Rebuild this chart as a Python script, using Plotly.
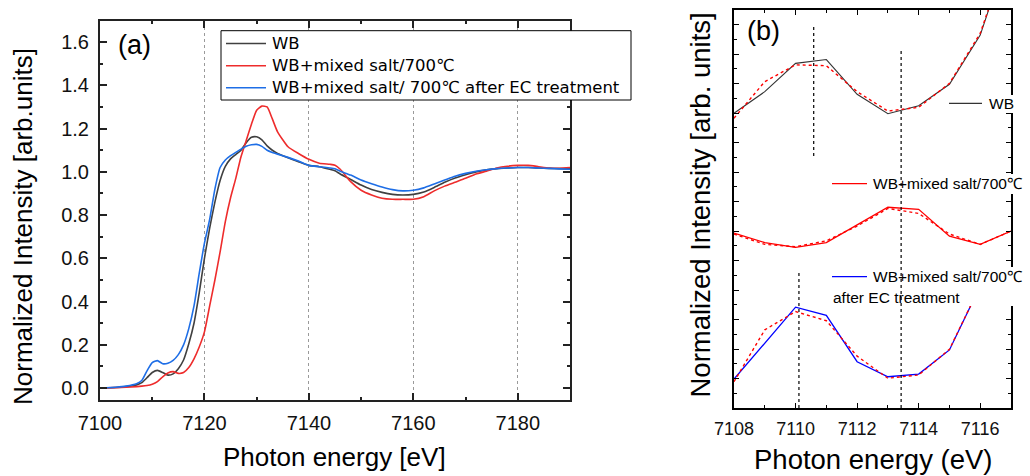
import plotly.graph_objects as go

# ---------------- Panel (a) data ----------------
energy_a = [7100, 7103, 7105, 7107, 7108, 7109, 7110, 7111, 7112, 7113, 7114, 7115, 7116,
            7117, 7118, 7119, 7120, 7121, 7122, 7123, 7124, 7125, 7126, 7127, 7128, 7129,
            7130, 7131, 7132, 7133, 7134, 7136, 7138, 7140, 7142, 7144, 7145, 7146, 7148,
            7150, 7152, 7154, 7156, 7158, 7160, 7162, 7164, 7166, 7168, 7170, 7172, 7174,
            7176, 7178, 7180, 7182, 7184, 7186, 7188, 7190]

wb_a = [0.0, 0.003, 0.007, 0.015, 0.025, 0.048, 0.072, 0.082, 0.072, 0.060, 0.066, 0.090, 0.13,
        0.205, 0.30, 0.44, 0.60, 0.74, 0.86, 0.96, 1.025, 1.06, 1.08, 1.10, 1.135, 1.16,
        1.162, 1.148, 1.12, 1.10, 1.085, 1.065, 1.047, 1.03, 1.024, 1.012, 1.005, 0.99, 0.965,
        0.939, 0.918, 0.905, 0.896, 0.893, 0.896, 0.907, 0.928, 0.952, 0.972, 0.987, 1.0, 1.009,
        1.015, 1.018, 1.02, 1.02, 1.018, 1.016, 1.015, 1.014]

salt_a = [0.0, 0.002, 0.004, 0.007, 0.009, 0.012, 0.018, 0.03, 0.052, 0.07, 0.076, 0.068, 0.072,
          0.095, 0.135, 0.19, 0.26, 0.38, 0.50, 0.63, 0.77, 0.88, 0.97, 1.07, 1.145, 1.22,
          1.285, 1.304, 1.30, 1.245, 1.185, 1.116, 1.085, 1.058, 1.04, 1.035, 1.031, 1.012, 0.955,
          0.915, 0.893, 0.878, 0.873, 0.873, 0.873, 0.885, 0.912, 0.934, 0.952, 0.97, 0.99, 1.003,
          1.018, 1.026, 1.03, 1.03, 1.024, 1.018, 1.017, 1.02]

ec_a = [0.0, 0.004, 0.009, 0.02, 0.035, 0.08, 0.118, 0.127, 0.113, 0.115, 0.128, 0.155, 0.20,
        0.275, 0.38, 0.53, 0.67, 0.78, 0.92, 1.02, 1.055, 1.075, 1.09, 1.105, 1.118, 1.125,
        1.127, 1.118, 1.10, 1.09, 1.082, 1.067, 1.05, 1.03, 1.024, 1.018, 1.014, 1.003, 0.985,
        0.962, 0.945, 0.93, 0.918, 0.912, 0.915, 0.926, 0.944, 0.962, 0.98, 0.993, 1.003, 1.01,
        1.015, 1.018, 1.02, 1.02, 1.018, 1.016, 1.014, 1.012]

names_a = ["WB", "WB+mixed salt/700℃", "WB+mixed salt/ 700℃ after EC treatment"]
yticks_a = [0.0, 0.2, 0.4, 0.6, 0.8, 1.0, 1.2, 1.4, 1.6]
xticks_a = [7100, 7120, 7140, 7160, 7180]

# ---------------- Panel (b) data (offset, arbitrary units) ----------------
energy_b = [7108, 7109, 7110, 7111, 7112, 7113, 7114, 7115, 7116, 7117]
wb_b = [10.00, 10.73, 11.69, 11.82, 10.64, 9.98, 10.25, 10.98, 12.65, 15.77]
wb_b_ref = [9.83, 11.07, 11.64, 11.61, 10.73, 10.07, 10.20, 11.01, 12.71, 15.77]
salt_b = [5.93, 5.61, 5.45, 5.61, 6.21, 6.81, 6.74, 5.83, 5.55, 6.00]
salt_b_ref = [5.90, 5.55, 5.47, 5.67, 6.17, 6.77, 6.60, 5.90, 5.55, 6.00]
energy_b_ec = [7108, 7109, 7110, 7111, 7112, 7113, 7114, 7115, 7116]
ec_b = [0.98, 2.19, 3.42, 3.14, 1.57, 1.06, 1.15, 1.97, 4.14]
ec_b_ref = [0.89, 2.65, 3.27, 2.96, 1.76, 1.01, 1.12, 1.99, 4.14]
marker_lines_b = [(7110.59, 8.55, 12.96), (7113.43, 0.0, 12.21), (7110.11, 0.0, 4.66)]
xticks_b = [7108, 7110, 7112, 7114, 7116]
names_b = ["WB", "WB+mixed salt/700℃", "WB+mixed salt/700℃", "after EC treatment"]

W, H = 1030, 476
def px(x):
    return x / W
def py(y):
    return 1 - y / H

ARIAL = "Arial, Liberation Sans, sans-serif"

fig = go.Figure()

col_a = ["#404040", "#ee2c2c", "#1e6ee6"]
for vals, nm, c in zip([wb_a, salt_a, ec_a], names_a, col_a):
    fig.add_trace(go.Scatter(x=energy_a, y=vals, name=nm, mode="lines",
                             line=dict(color=c, width=1.6, shape="spline", smoothing=0.5),
                             xaxis="x", yaxis="y", showlegend=False))

# panel (b)
fig.add_trace(go.Scatter(x=energy_b, y=wb_b, mode="lines", line=dict(color="#333333", width=1.1),
                         xaxis="x2", yaxis="y2", showlegend=False))
fig.add_trace(go.Scatter(x=energy_b, y=wb_b_ref, mode="lines", line=dict(color="#ff0000", width=1.4, dash="dot"),
                         xaxis="x2", yaxis="y2", showlegend=False))
fig.add_trace(go.Scatter(x=energy_b, y=salt_b, mode="lines", line=dict(color="#ff0000", width=1.3),
                         xaxis="x2", yaxis="y2", showlegend=False))
fig.add_trace(go.Scatter(x=energy_b, y=salt_b_ref, mode="lines", line=dict(color="#ff0000", width=1.4, dash="dot"),
                         xaxis="x2", yaxis="y2", showlegend=False))
fig.add_trace(go.Scatter(x=energy_b_ec, y=ec_b, mode="lines", line=dict(color="#0000ff", width=1.3),
                         xaxis="x2", yaxis="y2", showlegend=False))
fig.add_trace(go.Scatter(x=energy_b_ec, y=ec_b_ref, mode="lines", line=dict(color="#ff0000", width=1.4, dash="dot"),
                         xaxis="x2", yaxis="y2", showlegend=False))

shapes = []
# legend box of panel (a)
shapes.append(dict(type="rect", xref="paper", yref="paper", x0=px(221), x1=px(631), y0=py(100), y1=py(30.7),
                   fillcolor="white", line=dict(color="black", width=1), layer="above"))
for yy, c in zip([43.5, 65.7, 87.7], col_a):
    shapes.append(dict(type="line", xref="paper", yref="paper", x0=px(226), x1=px(266), y0=py(yy), y1=py(yy),
                       line=dict(color=c, width=1.6), layer="above"))
# white boxes of panel (b) legends (cover right axis)
for (x0, y0, x1, y1) in [(945, 95, 1030, 113), (830, 174, 1030, 194), (830, 267, 1030, 306)]:
    shapes.append(dict(type="rect", xref="paper", yref="paper", x0=px(x0), x1=px(x1), y0=py(y1), y1=py(y0),
                       fillcolor="white", line=dict(width=0), layer="above"))
# legend line samples (b)
for (x0, x1, yy, c) in [(949, 982, 103.3, "#333333"), (832, 867, 183.7, "#ff0000"), (832, 867, 276.7, "#0000ff")]:
    shapes.append(dict(type="line", xref="paper", yref="paper", x0=px(x0), x1=px(x1), y0=py(yy), y1=py(yy),
                       line=dict(color=c, width=1.3), layer="above"))
# dotted vertical marker lines (b)
for (xv, y0, y1) in marker_lines_b:
    shapes.append(dict(type="line", xref="x2", yref="y2", x0=xv, x1=xv, y0=y0, y1=y1,
                       line=dict(color="black", width=1.2, dash="dot"), layer="above"))

annotations = [
    dict(text="(a)", x=px(116), y=py(45), xanchor="left", yanchor="middle", font=dict(size=27, family=ARIAL, color="black")),
    dict(text="(b)", x=px(745), y=py(31), xanchor="left", yanchor="middle", font=dict(size=27, family=ARIAL, color="black")),
    dict(text="Photon energy [eV]", x=px(334), y=py(457), xanchor="center", yanchor="middle", font=dict(size=26, family=ARIAL, color="black")),
    dict(text="Normalized Intensity [arb.units]", x=px(23), y=py(227), xanchor="center", yanchor="middle", textangle=-90,
         font=dict(size=26, family=ARIAL, color="black")),
    dict(text="Photon energy (eV)", x=px(872.5), y=py(459), xanchor="center", yanchor="middle", font=dict(size=27.5, family=ARIAL, color="black")),
    dict(text="Normalized Intensity [arb. units]", x=px(700), y=py(205.5), xanchor="center", yanchor="middle", textangle=-90,
         font=dict(size=27.5, family=ARIAL, color="black")),
]
# legend texts (a)
for yy, nm in zip([43.5, 65.7, 87.7], names_a):
    annotations.append(dict(text=nm, x=px(270), y=py(yy), xanchor="left", yanchor="middle",
                            font=dict(size=16.5, family="DejaVu Sans", color="black")))
# legend texts (b)
for (xx, yy), nm in zip([(987, 103.5), (871, 183.5), (871, 276.5), (831, 297)], names_b):
    annotations.append(dict(text=nm, x=px(xx), y=py(yy), xanchor="left", yanchor="middle",
                            font=dict(size=15.5, family=ARIAL, color="black")))
for a in annotations:
    a.update(xref="paper", yref="paper", showarrow=False)

fig.update_layout(
    width=W, height=H,
    margin=dict(l=0, r=0, t=0, b=0),
    paper_bgcolor="white", plot_bgcolor="white",
    font=dict(family=ARIAL, color="black"),
    showlegend=False,
    xaxis=dict(domain=[px(100), px(570)], range=[7100, 7190], tickvals=xticks_a,
               ticks="inside", ticklen=7, tickwidth=1.5, tickcolor="#222",
               minor=dict(ticks="inside", ticklen=3, dtick=10, tickcolor="#222", showgrid=False),
               showline=True, linecolor="#222", linewidth=2, mirror="ticks",
               showgrid=True, gridcolor="#9a9a9a", griddash="dot", gridwidth=1,
               zeroline=False, tickfont=dict(size=20, family=ARIAL, color="#111"),
               ticklabelstandoff=4, anchor="y", automargin=False),
    yaxis=dict(domain=[py(400), py(20.7)], range=[-0.055, 1.699], tickvals=yticks_a, tickformat=".1f",
               ticks="inside", ticklen=7, tickwidth=1.5, tickcolor="#222",
               minor=dict(ticks="inside", ticklen=3, dtick=0.1, tickcolor="#222", showgrid=False),
               showline=True, linecolor="#222", linewidth=2, mirror="ticks",
               showgrid=False, zeroline=False, tickfont=dict(size=20, family=ARIAL, color="#111"),
               ticklabelstandoff=5, anchor="x", automargin=False),
    xaxis2=dict(domain=[px(734), px(1011)], range=[7108, 7117], tickvals=xticks_b,
                ticks="inside", ticklen=5, tickwidth=1.2, tickcolor="black",
                minor=dict(ticks="inside", ticklen=3, dtick=1, tickcolor="black", showgrid=False),
                showline=True, linecolor="black", linewidth=1.5, mirror="ticks",
                showgrid=False, zeroline=False, tickfont=dict(size=18, family=ARIAL, color="#111"),
                ticklabelstandoff=4, anchor="y2", automargin=False),
    yaxis2=dict(domain=[py(408), py(10)], range=[0, 13.5], dtick=1, tick0=0,
                ticks="inside", ticklen=5, tickwidth=1.2, tickcolor="black", showticklabels=False,
                minor=dict(ticks="inside", ticklen=3, dtick=0.5, tickcolor="black", showgrid=False),
                showline=True, linecolor="black", linewidth=1.5, mirror="ticks",
                showgrid=False, zeroline=False, anchor="x2", automargin=False),
    shapes=shapes,
    annotations=annotations,
)

fig.write_html("out.html", config={"displayModeBar": False},
               post_script="document.body.style.margin='0px';document.body.style.overflow='hidden';")
